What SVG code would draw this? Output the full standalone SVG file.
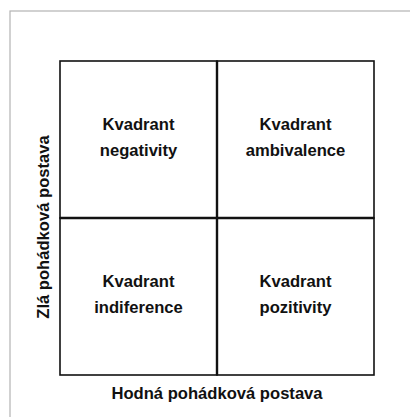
<svg xmlns="http://www.w3.org/2000/svg" width="410" height="417" viewBox="0 0 410 417">
<style>
.lbl{font-family:"Liberation Sans",Arial,sans-serif;font-weight:bold;font-size:16.6px;fill:#111;text-anchor:middle}
.cell{fill:none;stroke:#111;stroke-width:1.6}
</style>
<rect x="0" y="0" width="410" height="417" fill="#fff"/>
<rect x="10" y="11" width="420" height="430" fill="none" stroke="#b3b3b3" stroke-width="1.2"/>
<g id="q-negativity"><rect class="cell" x="60" y="61" width="157" height="157"/><text class="lbl" x="138.5" y="130">Kvadrant</text><text class="lbl" x="138.5" y="156">negativity</text></g>
<g id="q-ambivalence"><rect class="cell" x="217" y="61" width="157" height="157"/><text class="lbl" x="295.5" y="130">Kvadrant</text><text class="lbl" x="295.5" y="156">ambivalence</text></g>
<g id="q-indiference"><rect class="cell" x="60" y="218" width="157" height="157"/><text class="lbl" x="138.5" y="287">Kvadrant</text><text class="lbl" x="138.5" y="313">indiference</text></g>
<g id="q-pozitivity"><rect class="cell" x="217" y="218" width="157" height="157"/><text class="lbl" x="295.5" y="287">Kvadrant</text><text class="lbl" x="295.5" y="313">pozitivity</text></g>
<g id="connectors"><line x1="217" y1="61" x2="217" y2="375" stroke="#111" stroke-width="2.4"/><line x1="60" y1="218" x2="374" y2="218" stroke="#111" stroke-width="2.4"/></g>
<g id="axis-x"><text class="lbl" x="217" y="398.5">Hodná pohádková postava</text></g>
<g id="axis-y"><text class="lbl" transform="translate(48.5,227) rotate(-90)" x="0" y="0">Zlá pohádková postava</text></g>
</svg>
